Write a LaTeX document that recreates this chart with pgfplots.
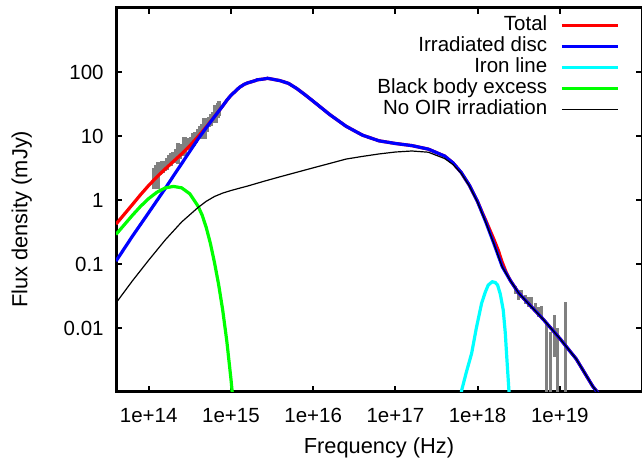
\documentclass[border=0pt]{standalone}
\usepackage{fontspec}
\setmainfont{Liberation Sans}
\usepackage{pgfplots}
\pgfplotsset{compat=1.18}
\usepackage{pgfplotstable}
\definecolor{fcyan}{RGB}{0,255,255}
\definecolor{fgreen}{RGB}{0,255,0}
\definecolor{fblue}{RGB}{0,0,255}
\definecolor{fred}{RGB}{255,0,0}
\definecolor{fgray}{RGB}{128,128,128}

% NIR/optical data (frequency, flux, error)
\pgfplotstableread{
x y e
1.15e14 2.34 0.86
1.22e14 2.59 0.96
1.30e14 2.69 1.18
1.38e14 3.03 0.56
1.47e14 3.34 0.74
1.56e14 3.43 0.62
1.66e14 3.78 0.83
1.77e14 4.28 0.78
1.88e14 4.38 0.96
2.00e14 4.81 0.88
2.13e14 5.06 1.31
2.27e14 5.70 2.10
2.41e14 5.69 1.26
2.57e14 6.44 1.18
2.73e14 7.26 2.40
2.91e14 7.35 1.36
3.09e14 7.74 1.42
3.29e14 8.24 1.52
3.50e14 9.02 1.98
3.72e14 9.66 1.78
3.96e14 10.8 1.98
4.21e14 11.6 2.6
4.48e14 13.1 2.4
4.77e14 14.1 5.1
5.07e14 15.1 3.4
5.40e14 16.7 3.0
5.74e14 18.1 4.0
6.11e14 20.4 3.7
6.50e14 23.2 7.5
6.91e14 26.3 7.0
7.20e14 28.2 7.5
}\tnir

% X-ray data (frequency, flux, error plus, error minus)
\pgfplotstableread{
x y ep em
2.884e18 0.0392 0.0058 0.0051
3.162e18 0.0328 0.0066 0.0055
3.467e18 0.0340 0.0050 0.0044
3.802e18 0.0274 0.0048 0.0041
4.169e18 0.0255 0.0052 0.0043
4.571e18 0.0246 0.0057 0.0046
5.012e18 0.0213 0.0037 0.0032
5.495e18 0.0178 0.0036 0.0030
6.026e18 0.0172 0.0045 0.0035
6.871e18 0.0050 0.00655 0.0045
7.656e18 0.0040 0.00466 0.0035
8.570e18 0.0075 0.0085 0.00398
9.333e18 0.0040 0.0060 0.0035
1.178e19 0.0080 0.0175 0.0075
}\txray

\pgfplotstableread{
x y
4.000e13 0.42
6.310e13 0.844
7.943e13 1.207
1.000e14 1.69
1.259e14 2.30
1.585e14 3.05
1.995e14 4.00
2.512e14 5.24
3.162e14 7.02
3.981e14 9.78
5.012e14 13.87
6.310e14 20.1
7.943e14 29.5
9.060e14 37.2
1.000e15 43.1
1.265e15 57.3
1.455e15 64.3
1.585e15 67.3
1.995e15 73.6
2.089e15 75.5
2.512e15 77.8
2.786e15 79.7
3.162e15 77.4
3.981e15 73.1
5.012e15 66.4
6.310e15 55.2
7.943e15 44.2
1.000e16 35.0
1.585e16 21.7
2.512e16 14.2
3.981e16 10.3
6.310e16 8.41
1.000e17 7.64
1.585e17 7.08
2.512e17 6.24
3.981e17 4.85
5.012e17 3.81
6.310e17 2.70
7.943e17 1.70
1.000e18 0.948
1.122e18 0.668
1.259e18 0.478
1.413e18 0.338
1.585e18 0.240
1.778e18 0.166
1.995e18 0.106
2.239e18 0.073
2.512e18 0.0548
3.162e18 0.0352
3.981e18 0.0255
6.310e18 0.0136
1.000e19 0.00686
1.585e19 0.00328
2.512e19 0.00123
3.162e19 0.00085
}\ttotal

\pgfplotstableread{
x y
4.000e13 0.111
6.310e13 0.270
1.000e14 0.636
1.259e14 0.98
1.585e14 1.51
1.995e14 2.37
2.512e14 3.69
3.162e14 5.77
3.981e14 8.98
5.012e14 13.5
6.310e14 20.0
7.943e14 29.5
9.060e14 37.2
1.000e15 43.1
1.265e15 57.3
1.455e15 64.3
1.585e15 67.3
1.995e15 73.6
2.089e15 75.5
2.512e15 77.8
2.786e15 79.7
3.162e15 77.4
3.981e15 73.1
5.012e15 66.4
6.310e15 55.2
7.943e15 44.2
1.000e16 35.0
1.585e16 21.7
2.512e16 14.2
3.981e16 10.3
6.310e16 8.41
1.000e17 7.64
1.585e17 7.08
2.512e17 6.24
3.981e17 4.85
5.012e17 3.81
6.310e17 2.70
7.943e17 1.70
1.000e18 0.940
1.259e18 0.453
1.585e18 0.206
1.995e18 0.091
2.512e18 0.0546
3.162e18 0.0352
3.981e18 0.0255
6.310e18 0.0136
1.000e19 0.00686
1.585e19 0.00328
2.512e19 0.00123
3.162e19 0.00085
}\tdisc

\pgfplotstableread{
x y
6.18e17 8.05e-4
6.41e17 1.07e-3
7.31e17 2.05e-3
8.47e17 4.03e-3
9.66e17 0.0100
1.119e18 0.0243
1.242e18 0.0365
1.349e18 0.0470
1.510e18 0.0528
1.641e18 0.0514
1.750e18 0.0470
1.888e18 0.0340
2.051e18 0.0191
2.173e18 8.35e-3
2.249e18 4.03e-3
2.404e18 1.07e-3
2.460e18 7.5e-4
}\tiron

\pgfplotstableread{
x y
4.000e13 0.29
6.310e13 0.574
7.943e13 0.794
1.000e14 1.054
1.259e14 1.324
1.585e14 1.543
1.995e14 1.630
2.512e14 1.55
3.162e14 1.25
3.548e14 1.00
3.981e14 0.80
4.467e14 0.58
5.012e14 0.37
5.623e14 0.21
6.310e14 0.105
7.079e14 0.048
7.943e14 0.0190
8.913e14 0.0062
1.000e15 0.0016
1.122e15 3.5e-4
}\tbb

\pgfplotstableread{
x y
4.000e13 0.0246
6.310e13 0.0542
1.000e14 0.115
1.585e14 0.237
2.512e14 0.453
3.981e14 0.764
5.012e14 0.955
6.310e14 1.135
7.943e14 1.282
1.000e15 1.406
1.259e15 1.524
1.585e15 1.648
2.512e15 1.96
3.981e15 2.31
6.310e15 2.71
1.000e16 3.18
1.585e16 3.72
2.512e16 4.36
3.981e16 4.80
6.310e16 5.24
1.000e17 5.62
1.585e17 5.83
2.512e17 5.58
3.981e17 4.44
5.012e17 3.59
6.310e17 2.62
7.943e17 1.66
1.000e18 0.92
1.259e18 0.445
1.585e18 0.204
1.995e18 0.090
2.512e18 0.0546
3.162e18 0.0352
3.981e18 0.0255
6.310e18 0.0136
1.000e19 0.00686
1.585e19 0.00328
2.512e19 0.00123
3.162e19 0.00085
}\tnoir

\begin{document}
\begin{tikzpicture}
\begin{axis}[
  scale only axis, width=263pt, height=192pt,
  xmode=log, ymode=log,
  xmin=4e13, xmax=1e20, ymin=1e-3, ymax=1e3,
  xtick={1e14,1e15,1e16,1e17,1e18,1e19},
  xticklabels={1e+14,1e+15,1e+16,1e+17,1e+18,1e+19},
  ytick={1e-2,1e-1,1,10,100},
  yticklabels={0.01,0.1,1,10,100},
  xminorticks=false, yminorticks=false,
  tick align=inside,
  major tick length=3pt,
  every tick/.style={black, line width=1pt},
  axis line style={line width=1.5pt},
  font=\fontsize{10.25}{12}\selectfont,
  xticklabel style={inner sep=0pt, yshift=-7.8pt},
  yticklabel style={inner sep=0pt, xshift=-6pt},
  xlabel={Frequency (Hz)},
  ylabel={Flux density (mJy)},
  xlabel style={at={(axis description cs:0.5,0)}, anchor=north, inner sep=0pt, yshift=-22.5pt, font=\fontsize{10.9}{13}\selectfont},
  ylabel style={at={(axis description cs:-0.179,0.45)}, anchor=center, inner sep=0pt, font=\fontsize{10.9}{13}\selectfont},
  legend style={at={(0.957,0.98)}, anchor=north east, draw=none, fill=none,
    inner sep=0pt, outer sep=0pt, row sep=0.5pt, column sep=6.5pt,
    nodes={inner sep=0pt, text height=7.5pt, text depth=2.5pt}},
  legend cell align=right, legend plot pos=right,
  legend image code/.code={\draw[#1] (0pt,0pt) -- (28pt,0pt);},
]
\coordinate (SW) at (rel axis cs:0,0);
\coordinate (NE) at (rel axis cs:1,1);

\addplot[forget plot, draw=none, mark=none,
  error bars/.cd, y dir=both, y explicit, error mark=none,
  error bar style={draw=fgray, line width=2.2pt}]
  table[x=x, y=y, y error=e]{\tnir};
\addplot[forget plot, draw=none, mark=none,
  error bars/.cd, y dir=both, y explicit, error mark=none,
  error bar style={draw=fgray, line width=1.5pt}]
  table[x=x, y=y, y error plus=ep, y error minus=em]{\txray};

\addplot[fred, line width=1.6pt] table[x=x,y=y]{\ttotal};
\addlegendentry{Total}
\addplot[fblue, line width=1.6pt] table[x=x,y=y]{\tdisc};
\addlegendentry{Irradiated disc}
\addplot[fcyan, line width=1.6pt] table[x=x,y=y]{\tiron};
\addlegendentry{Iron line}
\addplot[fgreen, line width=1.6pt] table[x=x,y=y]{\tbb};
\addlegendentry{Black body excess}
\addplot[black, line width=0.6pt] table[x=x,y=y]{\tnoir};
\addlegendentry{No OIR irradiation}
\end{axis}
\pgfresetboundingbox
\path ([xshift=-58pt,yshift=-33.5pt]SW) rectangle ([yshift=4pt]NE);
\end{tikzpicture}
\end{document}
